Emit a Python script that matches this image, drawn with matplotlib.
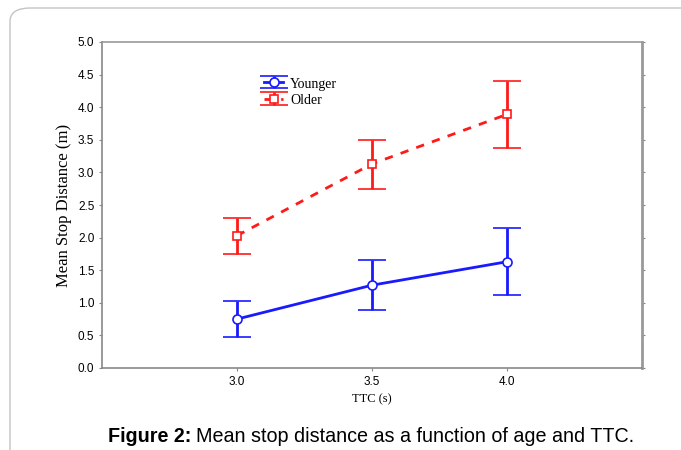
import matplotlib
matplotlib.use("Agg")
import matplotlib.pyplot as plt
from matplotlib.patches import FancyBboxPatch
from matplotlib.legend_handler import HandlerErrorbar

ttc = [3.0, 3.5, 4.0]
younger_mean = [0.75, 1.27, 1.63]
younger_low = [0.47, 0.89, 1.12]
younger_high = [1.02, 1.65, 2.14]
older_mean = [2.03, 3.13, 3.89]
older_low = [1.75, 2.74, 3.37]
older_high = [2.30, 3.50, 4.40]
yticks = [0.0, 0.5, 1.0, 1.5, 2.0, 2.5, 3.0, 3.5, 4.0, 4.5, 5.0]
xticks = [3.0, 3.5, 4.0]

W, H = 681, 450
fig = plt.figure(figsize=(W / 100, H / 100), dpi=100)
ax = fig.add_axes([102 / W, 1 - 368 / H, (642 - 102) / W, (368 - 42) / H])

# border of the page
border = FancyBboxPatch((10 / W, -0.1), 1.2, (H - 8) / H + 0.1,
                        boxstyle="round,pad=0,rounding_size=0.03",
                        transform=fig.transFigure, fill=False,
                        edgecolor="#c4c4c4", linewidth=1.0, clip_on=False)
fig.patches.append(border)

blue = "#1a1aff"
red = "#ff1a1a"

def err(mean, lo, hi):
    return [[m - l for m, l in zip(mean, lo)], [h - m for m, h in zip(mean, hi)]]

hy = ax.errorbar(ttc, younger_mean, yerr=err(younger_mean, younger_low, younger_high),
                 color=blue, lw=2, capsize=10, capthick=2, elinewidth=2,
                 marker="o", ms=6.5, mfc="white", mec=blue, mew=1.2,
                 label="Younger", zorder=3)
ho = ax.errorbar(ttc, older_mean, yerr=err(older_mean, older_low, older_high),
                 color=red, lw=2, ls=(0, (3, 3)), capsize=10, capthick=2, elinewidth=2,
                 marker="s", ms=6, mfc="white", mec=red, mew=1.2,
                 label="Older", zorder=3)
ho[2][0].set_linestyle("solid")

ax.set_xlim(2.5, 4.5)
ax.set_ylim(0, 5)
ax.set_xticks(xticks)
ax.set_xticklabels([f"{v:.1f}" for v in xticks])
ax.set_yticks(yticks)
ax.set_yticklabels([f"{v:.1f}" for v in yticks])
for lab in ax.get_xticklabels() + ax.get_yticklabels():
    lab.set_fontfamily("Liberation Sans")
    lab.set_fontsize(8.5)
ax.tick_params(axis="both", direction="out", length=2.5, width=0.8, color="#888888", pad=3)
ax.tick_params(axis="y", right=True, which="both")
for s in ax.spines.values():
    s.set_color("#999999")
    s.set_linewidth(1.2)
ax.spines["left"].set_color("#888888")
ax.spines["bottom"].set_color("#888888")
ax.spines["right"].set_linewidth(2)

ax.set_xlabel("TTC (s)", fontfamily="Liberation Serif", fontsize=9, labelpad=4)
ax.set_ylabel("Mean Stop Distance (m)", fontfamily="Liberation Serif", fontsize=12, labelpad=4)

leg = ax.legend(handles=[hy, ho], loc="upper left", bbox_to_anchor=(155 / 540, 1 - 28 / 326),
                frameon=False, prop={"family": "Liberation Serif", "size": 10},
                handlelength=1.4, handleheight=0.9, handletextpad=0.5, labelspacing=0.2,
                borderpad=0,
                handler_map={type(hy): HandlerErrorbar(xerr_size=0.5, yerr_size=0.45)})

t1 = fig.text(108 / W, 1 - 437 / H, "Figure 2:", fontfamily="Liberation Sans",
              fontweight="bold", fontsize=14.2, va="center", ha="left")
fig.canvas.draw()
bb = t1.get_window_extent()
fig.text((bb.x1 + 5) / W, 1 - 437 / H, "Mean stop distance as a function of age and TTC.",
         fontfamily="Liberation Sans", fontsize=14.2, va="center", ha="left")

fig.savefig("out.png", dpi=100)
